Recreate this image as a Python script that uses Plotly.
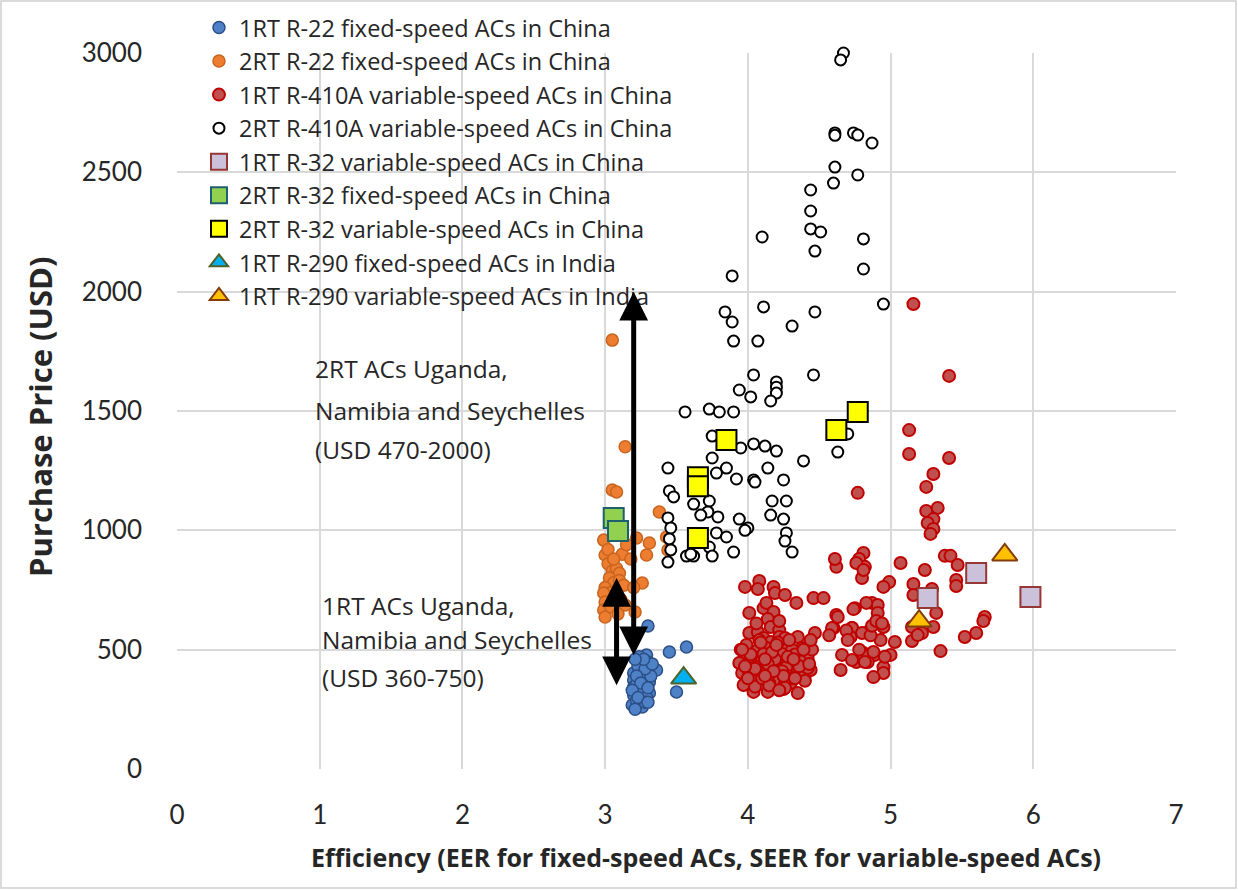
import plotly.graph_objects as go

# ---------------- data ----------------
r22_1rt_x = [3.30, 3.45, 3.57, 3.50, 3.36, 3.29, 3.24, 3.30, 3.20, 3.26, 3.30, 3.20, 3.27, 3.20, 3.27, 3.20, 3.26, 3.31,
             3.19, 3.26, 3.22, 3.31, 3.32, 3.23, 3.28, 3.22, 3.25, 3.29, 3.21, 3.28, 3.24, 3.22, 3.33, 3.25, 3.30, 3.19,
             3.23, 3.27, 3.30, 3.21]
r22_1rt_y = [599, 490, 511, 323, 415, 478, 448, 448, 402, 402, 415, 373, 373, 344, 340, 310, 310, 318,
             268, 260, 285, 365, 390, 430, 420, 355, 330, 300, 250, 280, 470, 390, 440, 360, 340, 330,
             300, 460, 280, 460]

r22_2rt_x = [3.05, 3.14, 3.05, 3.08, 3.38, 3.43, 3.44, 3.31, 3.29, 3.22, 2.99, 3.00, 3.02, 3.05, 3.08, 3.10, 3.03, 3.06,
             3.10, 3.00, 3.04, 3.08, 2.99, 3.00, 2.99, 3.00, 3.14, 3.21, 3.26, 3.12, 3.15, 3.18, 3.13, 3.02, 3.06, 3.12,
             3.04, 3.09, 3.20, 3.11]
r22_2rt_y = [1797, 1350, 1169, 1161, 1077, 972, 918, 947, 897, 968, 959, 897, 860, 830, 840, 820, 800, 780,
             790, 760, 740, 730, 737, 700, 666, 637, 687, 658, 779, 900, 940, 880, 770, 920, 880, 1000,
             680, 650, 760, 710]

r410_1rt_x = [5.16, 5.41, 5.13, 5.13, 5.41, 5.30, 5.25, 5.25, 5.33, 5.30, 5.26, 5.30, 5.28, 4.77, 5.38, 5.42, 5.47, 5.07,
              5.24, 5.46, 5.46, 5.16, 5.16, 5.29, 5.32, 5.66, 5.65, 5.60, 5.52, 5.35, 5.30, 5.15, 5.22, 5.15, 5.19, 4.99,
              4.95, 4.81, 4.78, 4.82, 4.80, 4.87, 4.91, 4.91, 4.95, 4.84, 4.93, 5.03, 4.81, 4.89, 5.00, 4.95, 4.95, 4.88,
              4.75, 4.73, 4.76, 4.84, 4.62, 4.61, 4.76, 4.81,
              3.98, 4.08, 4.07, 4.18, 4.19, 4.26, 4.34, 4.46, 4.53, 4.01, 4.11, 4.13, 4.18, 4.14, 4.16, 4.22,
              4.01, 4.07, 4.11, 4.16, 4.22, 4.26, 4.35, 4.07, 4.13, 4.21, 4.27, 4.38, 3.97, 3.94, 4.04, 4.09,
              4.16, 4.20, 4.27, 4.34, 4.42, 3.96, 4.03, 4.10, 4.16, 4.23, 4.30, 4.34, 4.40, 4.44, 3.97, 4.04,
              4.09, 4.14, 4.35, 4.23, 4.06, 4.13, 4.27, 4.11, 4.24, 4.31, 4.39, 4.00, 4.18, 4.30, 4.40, 4.38,
              4.42, 4.42, 4.62, 4.60, 4.73, 4.72, 4.80, 4.66, 4.73, 4.65, 4.81, 4.82, 4.47, 4.74, 4.59, 4.63,
              4.69, 4.86, 4.83, 4.87, 4.90, 4.94, 4.88, 4.96, 4.78, 4.70, 4.20, 4.05, 4.15, 4.25, 4.00, 4.12,
              4.28, 3.99, 4.08, 4.19, 4.33, 4.03, 4.14, 4.24, 4.36, 3.95, 4.10, 4.21, 4.31, 4.02, 4.17, 4.26,
              4.37, 4.06, 4.22, 4.45, 4.44, 4.57,
              4.02, 4.12, 4.20, 4.28, 4.36, 3.96, 4.05, 4.15, 4.25, 4.33, 4.43, 4.09, 4.18, 4.29, 4.39, 4.00,
              3.98, 4.22, 4.12, 4.32]
r410_1rt_y = [1948, 1647, 1420, 1320, 1303, 1236, 1182, 1081, 1094, 1047, 1031, 1006, 985, 1157, 893, 893, 855, 863,
              834, 792, 767, 775, 729, 754, 654, 637, 620, 570, 553, 494, 595, 595, 570, 536, 561, 783,
              763, 905, 880, 847, 800, 696, 687, 654, 595, 574, 540, 532, 486, 478, 478, 427, 402, 385,
              674, 591, 448, 448, 847, 880, 863, 834,
              763, 788, 754, 763, 737, 729, 696, 716, 716, 654, 674, 696, 658, 628, 595, 582,
              570, 574, 549, 532, 553, 549, 553, 499, 507, 511, 499, 507, 457, 444, 465, 448,
              469, 448, 457, 469, 457, 402, 386, 406, 386, 415, 402, 427, 394, 415, 352, 323,
              356, 323, 318, 365, 427, 427, 427, 482, 482, 499, 478, 420, 370, 360, 370, 465,
              423, 478, 645, 591, 591, 553, 570, 478, 457, 415, 478, 448, 570, 670, 591, 637,
              580, 560, 696, 600, 620, 610, 490, 470, 500, 540, 520, 345, 360, 335, 440, 400,
              390, 520, 540, 460, 480, 420, 440, 410, 430, 500, 380, 530, 380, 470, 490, 340,
              450, 610, 620, 500, 540, 560,
              480, 460, 520, 470, 430, 500, 420, 350, 390, 380, 440, 530, 410, 540, 500, 380,
              430, 330, 390, 460]

r410_2rt_x = [4.67, 4.65, 4.61, 4.61, 4.74, 4.77, 4.87, 4.61, 4.77, 4.60, 4.44, 4.44, 4.44, 4.51, 4.81, 4.10, 4.47, 4.81,
              3.89, 4.95, 4.11, 4.47, 3.84, 3.89, 4.31, 3.90, 4.07, 4.04, 4.46, 4.20, 4.20, 4.20, 3.94, 4.02, 4.16, 3.56,
              3.73, 3.80, 3.90, 3.75, 3.95, 4.04, 4.12, 4.20, 4.70, 4.63, 4.39, 3.75, 3.44, 3.85, 3.78, 3.92, 4.14, 4.04,
              4.05, 4.25, 3.45, 3.48, 3.73, 3.62, 3.72, 3.67, 3.79, 4.17, 4.27, 4.16, 4.25, 3.94, 4.00, 3.98, 3.44, 3.46,
              3.45, 3.78, 3.85, 4.27, 4.26, 4.31, 3.73, 3.75, 3.90, 3.57, 3.62, 3.44, 3.46, 3.60]
r410_2rt_y = [3000, 2971, 2665, 2655, 2665, 2656, 2623, 2522, 2489, 2455, 2426, 2338, 2263, 2250, 2221, 2229, 2170, 2095,
              2066, 1948, 1936, 1915, 1915, 1873, 1856, 1793, 1793, 1651, 1651, 1622, 1600, 1575, 1588, 1559, 1542, 1496,
              1508, 1496, 1496, 1395, 1345, 1362, 1353, 1332, 1404, 1328, 1291, 1303, 1261, 1261, 1240, 1215, 1261, 1211,
              1202, 1211, 1165, 1140, 1123, 1110, 1077, 1064, 1056, 1123, 1123, 1064, 1047, 1047, 1010, 1000, 1052, 1010,
              964, 989, 972, 989, 955, 909, 930, 892, 909, 892, 892, 867, 918, 900]

r32_1rt_var_x = [5.26, 5.60, 5.98]
r32_1rt_var_y = [716, 821, 721]

r32_2rt_fix_x = [3.06, 3.09]
r32_2rt_fix_y = [1052, 997]

r32_2rt_var_x = [3.85, 3.65, 3.65, 3.65, 4.62, 4.77]
r32_2rt_var_y = [1378, 1222, 1185, 968, 1420, 1496]

r290_fix_x = [3.55]
r290_fix_y = [381]

r290_var_x = [5.20, 5.80]
r290_var_y = [620, 897]

# price ranges in Uganda, Namibia and Seychelles (arrows)
range_2rt_x = 3.20
range_2rt = [470, 2000]
range_1rt_x = 3.08
range_1rt = [345, 800]

x_ticks = [0, 1, 2, 3, 4, 5, 6, 7]
y_ticks = [0, 500, 1000, 1500, 2000, 2500, 3000]

x_title = "Efficiency (EER for fixed-speed ACs, SEER for variable-speed ACs)"
y_title = "Purchase Price (USD)"

FONT = "Lato, 'Open Sans', sans-serif"
FONT2 = "'Open Sans', Lato, sans-serif"
TXT = "#262626"

fig = go.Figure()

def add(name, xs, ys, symbol, size, fill, line_color, line_w):
    fig.add_trace(go.Scatter(
        x=xs, y=ys, mode="markers", name=name, legendgroup=name,
        marker=dict(symbol=symbol, size=size, color=fill,
                    line=dict(color=line_color, width=line_w)),
        cliponaxis=False))

add("1RT R-22 fixed-speed ACs in China", r22_1rt_x, r22_1rt_y, "circle", 12, "#4f81c7", "#2b4f86", 1.5)
add("2RT R-22 fixed-speed ACs in China", r22_2rt_x, r22_2rt_y, "circle", 12, "#ed7d31", "#c8641e", 1.5)
add("1RT R-410A variable-speed ACs in China", r410_1rt_x, r410_1rt_y, "circle", 12, "#c0504d", "#c00000", 2)
add("2RT R-410A variable-speed ACs in China", r410_2rt_x, r410_2rt_y, "circle", 11, "white", "black", 2)
add("1RT R-32 variable-speed ACs in China", r32_1rt_var_x, r32_1rt_var_y, "square", 20, "#ccc1da", "#953735", 2)
add("2RT R-32 fixed-speed ACs in China", r32_2rt_fix_x, r32_2rt_fix_y, "square", 20, "#92d050", "#1f6070", 2)
add("2RT R-32 variable-speed ACs in China", r32_2rt_var_x, r32_2rt_var_y, "square", 20, "#ffff00", "black", 2)
add("1RT R-290 fixed-speed ACs in India", r290_fix_x, r290_fix_y, "triangle-up", 22, "#00b0f0", "#4f6228", 2)
add("1RT R-290 variable-speed ACs in India", r290_var_x, r290_var_y, "triangle-up", 22, "#ffc000", "#843c0c", 2)

# double-headed arrows
for ax_x, rng in [(range_2rt_x, range_2rt), (range_1rt_x, range_1rt)]:
    fig.add_annotation(x=ax_x, y=rng[1], ax=ax_x, ay=rng[0], xref="x", yref="y", axref="x", ayref="y",
                       text="", showarrow=True, arrowhead=2, startarrowhead=2, arrowside="end+start",
                       arrowsize=1.15, startarrowsize=1.15, arrowwidth=5, arrowcolor="black")

# texts
lines_2rt = ["2RT ACs Uganda,", "Namibia and Seychelles", "(USD 470-2000)"]
lines_1rt = ["1RT ACs Uganda,", "Namibia and Seychelles", "(USD 360-750)"]
for i, t in enumerate(lines_2rt):
    fig.add_annotation(x=0.953, y=[1676, 1504, 1337][i], xref="x", yref="y", text=t, showarrow=False,
                       xanchor="left", yanchor="middle", font=dict(family=FONT2, size=24.5, color=TXT))
for i, t in enumerate(lines_1rt):
    fig.add_annotation(x=1.0, y=[687, 541, 385][i], xref="x", yref="y", text=t, showarrow=False,
                       xanchor="left", yanchor="middle", font=dict(family=FONT2, size=24.5, color=TXT))

W, H, L, T = 999, 716, 177, 53

# axis titles
fig.add_annotation(x=(706 - L) / W, y=(769 - 857) / H, xref="paper", yref="paper", text="<b>" + x_title + "</b>",
                   showarrow=False, xanchor="center", yanchor="middle",
                   font=dict(family=FONT2, size=25, color=TXT))
fig.add_annotation(x=(40 - L) / W, y=(769 - 417) / H, xref="paper", yref="paper", text="<b>" + y_title + "</b>",
                   showarrow=False, xanchor="center", yanchor="middle", textangle=-90,
                   font=dict(family=FONT2, size=31, color=TXT))

fig.add_shape(type="rect", xref="paper", yref="paper",
              x0=(1 - L) / W, x1=(1236 - L) / W, y0=(769 - 888) / H, y1=(769 - 1) / H,
              line=dict(color="#d0d0d0", width=1.5), fillcolor="rgba(0,0,0,0)", layer="below")

fig.update_layout(
    width=1238, height=890,
    margin=dict(l=177, r=62, t=53, b=121, autoexpand=False),
    paper_bgcolor="white", plot_bgcolor="white",
    font=dict(family=FONT, color=TXT),
    showlegend=True,
    legend=dict(x=0.022, y=1.066, xanchor="left", yanchor="top", bgcolor="rgba(0,0,0,0)",
                font=dict(family=FONT2, size=23.5, color=TXT), traceorder="normal",
                tracegroupgap=0, itemsizing="trace"),
    xaxis=dict(range=[0, 7], tickvals=x_ticks, showgrid=True, gridcolor="#d9d9d9", gridwidth=2,
               zeroline=False, showline=False, ticks="", ticklabelstandoff=28,
               tickfont=dict(family=FONT, size=26, color=TXT)),
    yaxis=dict(range=[0, 3000], tickvals=y_ticks, showgrid=True, gridcolor="#d9d9d9", gridwidth=2,
               zeroline=False, showline=False, ticks="", ticklabelstandoff=34,
               tickfont=dict(family=FONT, size=26, color=TXT)),
)

fig.write_html("out.html", config={"displayModeBar": False},
               post_script="document.body.style.margin='0';")
